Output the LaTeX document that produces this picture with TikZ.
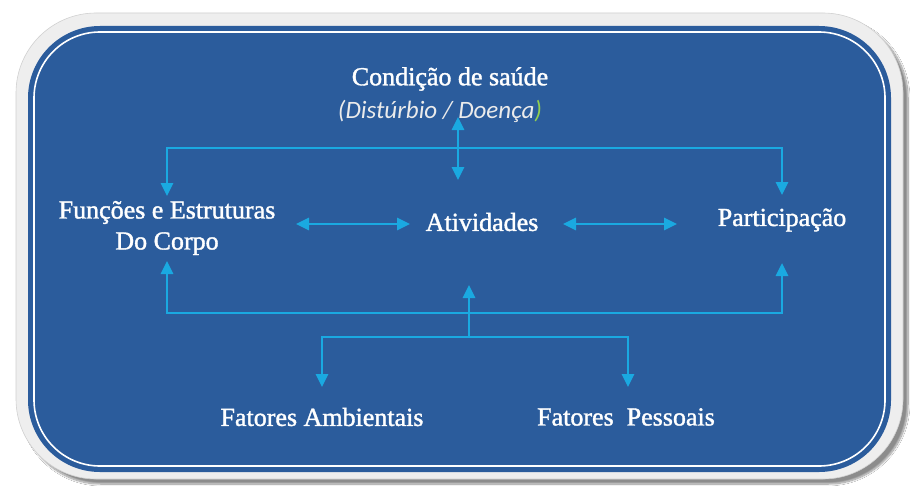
\documentclass[tikz,border=0pt]{standalone}
\usepackage{fontspec}
\setmainfont{Liberation Serif}
\newfontfamily\lblfont{Liberation Serif}[FakeBold=1.4]
\newfontfamily\calib{Carlito}
\usetikzlibrary{arrows.meta,shadows.blur}
\definecolor{panelblue}{RGB}{43,92,156}
\definecolor{linkcyan}{RGB}{26,169,225}
\definecolor{framegray}{RGB}{238,238,238}
\definecolor{paren}{RGB}{146,208,80}
\tikzset{
  lbl/.style={text=white,font=\lblfont\fontsize{26}{31}\selectfont,inner sep=0pt,align=center},
  link/.style={draw=linkcyan,line width=2.8pt},
  tip/.style={-{Triangle[length=13pt,width=12pt]}},
  tips/.style={{Triangle[length=13pt,width=12pt]}-{Triangle[length=13pt,width=12pt]}}
}
\begin{document}
\begin{tikzpicture}[x=1pt,y=-1pt]
\useasboundingbox (0,0) rectangle (917,487);
\fill[white] (0,0) rectangle (917,487);
% frame
\path[fill=framegray,draw=black!18,line width=0.6pt,rounded corners=80pt,
  blur shadow={shadow xshift=5pt,shadow yshift=-5pt,shadow blur steps=12,shadow opacity=45}]
  (16,13) rectangle (903,479);
\fill[panelblue,rounded corners=72pt] (28,26) rectangle (891,472);
\draw[white,line width=1.6pt,rounded corners=66pt] (34,32) rectangle (885,466);
% texts
\node[lbl] (cond) at (450,79) {Condição de saúde};
\node[text=white!92!black,font=\calib\itshape\fontsize{25}{30}\selectfont,inner sep=0pt] (dist) at (440,111) {(Distúrbio / Doença\textcolor{paren}{)}};
\node[lbl] (func) at (167,228) {Funções e Estruturas\\Do Corpo};
\node[lbl] (ativ) at (482,222) {Atividades};
\node[lbl] (part) at (782,220) {Participação};
\node[lbl] (amb) at (322,417) {Fatores Ambientais};
\node[lbl] (pess) at (626,417) {Fatores\ \ Pessoais};
% coordinates
\coordinate (cu) at (458,117);
\coordinate (cd) at (458,180);
\coordinate (tl) at (167,148);
\coordinate (tr) at (782,148);
\coordinate (ft) at (167,196);
\coordinate (pt) at (782,195);
\coordinate (fb) at (167,261);
\coordinate (pb) at (782,263);
\coordinate (bl) at (167,313);
\coordinate (br) at (782,313);
\coordinate (bm) at (469,313);
\coordinate (au) at (469,285);
\coordinate (sm) at (469,337);
\coordinate (sl) at (322,337);
\coordinate (sr) at (628,337);
\coordinate (ad) at (322,387);
\coordinate (pd) at (628,387);
\coordinate (la) at (296,224);
\coordinate (lb) at (410,224);
\coordinate (ra) at (563,224);
\coordinate (rb) at (677,224);
% connectors
\draw[link,tips] (cu) -- (cd);
\draw[link,tips,line join=miter] (ft) -- (tl) -- (tr) -- (pt);
\draw[link,tips] (la) -- (lb);
\draw[link,tips] (ra) -- (rb);
\draw[link,tips,line join=miter] (fb) -- (bl) -- (br) -- (pb);
\draw[link,tip] (bm) -- (au);
\draw[link] (bm) -- (sm);
\draw[link,tips,line join=miter] (ad) -- (sl) -- (sr) -- (pd);
\end{tikzpicture}
\end{document}
